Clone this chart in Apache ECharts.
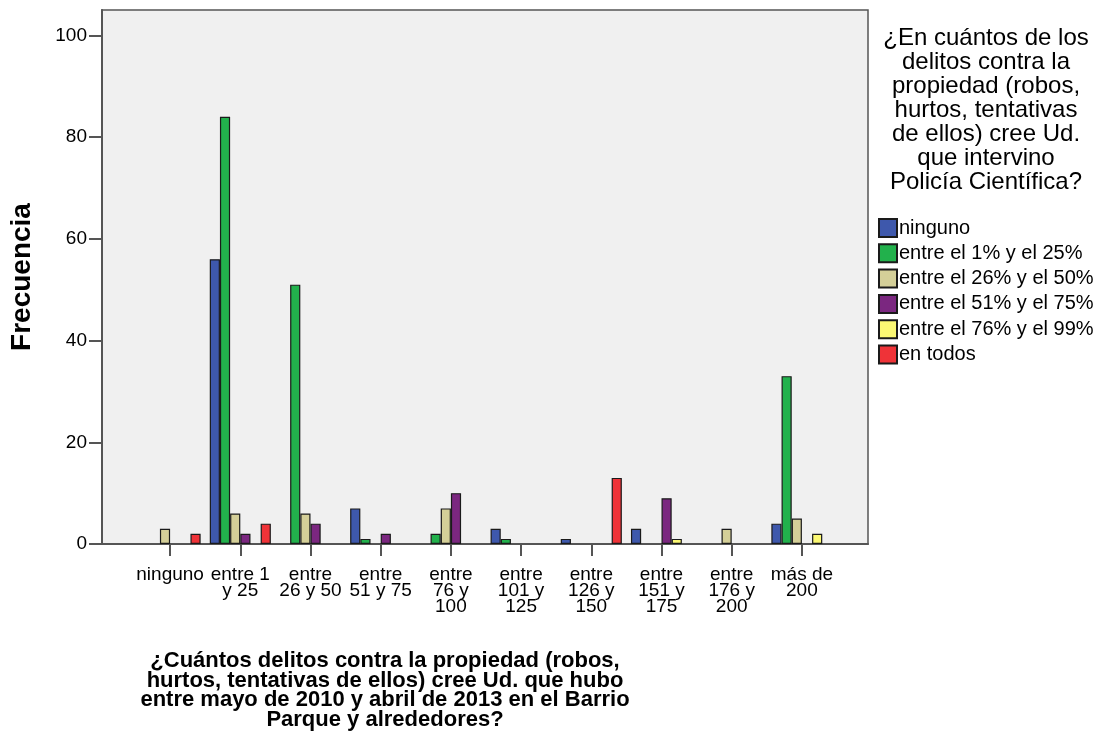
<!DOCTYPE html>
<html>
<head>
<meta charset="utf-8">
<script src="https://cdn.jsdelivr.net/npm/echarts@6/dist/echarts.min.js"></script>
<style>
  html, body { margin: 0; padding: 0; background: #fff; }
  #chart { width: 1108px; height: 753px; }
</style>
</head>
<body>
<div id="chart"></div>
<script>
// Number of property crimes believed to have happened (categories on x)
const categories = [
  'ninguno', 'entre 1\ny 25', 'entre\n26 y 50', 'entre\n51 y 75', 'entre\n76 y\n100',
  'entre\n101 y\n125', 'entre\n126 y\n150', 'entre\n151 y\n175', 'entre\n176 y\n200', 'más de\n200'
];

// Share of those crimes where forensic police intervened (one series each)
const seriesNames = [
  'ninguno', 'entre el 1% y el 25%', 'entre el 26% y el 50%',
  'entre el 51% y el 75%', 'entre el 76% y el 99%', 'en todos'
];
const ningunoVals   = [0, 56, 0, 7, 0, 3, 1, 3, 0, 4];
const entre1_25     = [0, 84, 51, 1, 2, 1, 0, 0, 0, 33];
const entre26_50    = [3, 6, 6, 0, 7, 0, 0, 0, 3, 5];
const entre51_75    = [0, 2, 4, 2, 10, 0, 0, 9, 0, 0];
const entre76_99    = [0, 0, 0, 0, 0, 0, 0, 1, 0, 2];
const enTodos       = [2, 4, 0, 0, 0, 0, 13, 0, 0, 0];
const seriesValues = [ningunoVals, entre1_25, entre26_50, entre51_75, entre76_99, enTodos];

const yTicks = [0, 20, 40, 60, 80, 100];
const colors = ['#3e58ac', '#22b14c', '#d4cf98', '#7b2780', '#fbf873', '#ef3338'];

const FONT = '"Liberation Sans", Arial, sans-serif';
const AXIS_COLOR = '#555555';

const legendTitle = '¿En cuántos de los\ndelitos contra la\npropiedad (robos,\nhurtos, tentativas\nde ellos) cree Ud.\nque intervino\nPolicía Científica?';
const xTitle = '¿Cuántos delitos contra la propiedad (robos,\nhurtos, tentativas de ellos) cree Ud. que hubo\nentre mayo de 2010 y abril de 2013 en el Barrio\nParque y alrededores?';

const chart = echarts.init(document.getElementById('chart'), null, { renderer: 'canvas' });

const option = {
  animation: false,
  backgroundColor: '#ffffff',
  textStyle: { fontFamily: FONT, color: '#000' },
  grid: [
    // plot frame with the y axis
    { left: 102, top: 10, width: 766, height: 534, show: true, outerBoundsMode: 'none',
      backgroundColor: '#f0f0f0', borderColor: AXIS_COLOR, borderWidth: 1.5 },
    // inner band holding the clustered bars
    { left: 135, top: 10, width: 702, height: 534, show: false, outerBoundsMode: 'none' }
  ],
  xAxis: [
    { gridIndex: 0, type: 'value', min: 0, max: 1,
      axisLine: { show: true, lineStyle: { color: AXIS_COLOR, width: 2 } },
      axisTick: { show: false }, axisLabel: { show: false }, splitLine: { show: false } },
    { gridIndex: 1, type: 'category', data: categories,
      axisLine: { show: false },
      axisTick: { show: true, alignWithLabel: true, length: 12, lineStyle: { color: AXIS_COLOR, width: 2 } },
      axisLabel: { interval: 0, fontSize: 19, lineHeight: 16, margin: 23, color: '#000', fontFamily: FONT },
      splitLine: { show: false } }
  ],
  yAxis: [
    { gridIndex: 0, type: 'value', min: 0, max: 105, interval: 20,
      name: 'Frecuencia', nameLocation: 'middle', nameRotate: 90, nameGap: 66,
      nameTextStyle: { fontSize: 28, fontWeight: 'bold', fontFamily: FONT, color: '#000' },
      axisLine: { show: true, lineStyle: { color: AXIS_COLOR, width: 2 } },
      axisTick: { show: true, length: 13, customValues: yTicks, lineStyle: { color: AXIS_COLOR, width: 2 } },
      axisLabel: { fontSize: 19, margin: 15, customValues: yTicks, color: '#000', fontFamily: FONT },
      splitLine: { show: false } },
    { gridIndex: 1, type: 'value', min: 0, max: 105, show: false, splitLine: { show: false } }
  ],
  legend: {
    orient: 'vertical', left: 873, top: 213,
    itemWidth: 18, itemHeight: 18, itemGap: 5.3,
    icon: 'rect', selectedMode: false,
    textStyle: { fontSize: 20, lineHeight: 18, color: '#000', fontFamily: FONT, padding: [0, 0, 0, -3] },
    data: seriesNames
  },
  graphic: [
    { type: 'text', x: 986, y: 26, style: {
        text: legendTitle, align: 'center', verticalAlign: 'top',
        font: '24px ' + FONT, lineHeight: 24, fill: '#000' } },
    { type: 'text', x: 385, y: 651, style: {
        text: xTitle, align: 'center', verticalAlign: 'top',
        font: 'bold 22px ' + FONT, lineHeight: 19.7, fill: '#000' } }
  ],
  series: seriesNames.map((name, i) => ({
    name: name,
    type: 'bar',
    xAxisIndex: 1, yAxisIndex: 1,
    barGap: '0%', barCategoryGap: '13%',
    itemStyle: { color: colors[i], borderColor: '#1a1a1a', borderWidth: 1.2 },
    data: seriesValues[i].map(v => (v === 0 ? null : v))
  }))
};

chart.setOption(option);
</script>
</body>
</html>
